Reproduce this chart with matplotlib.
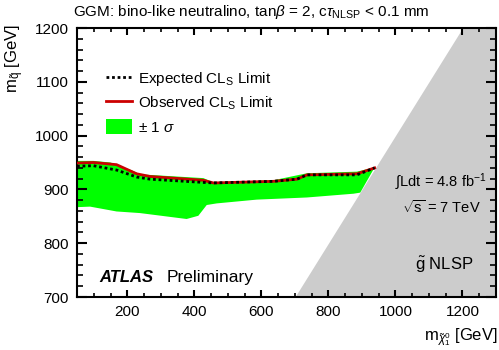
import matplotlib
matplotlib.use("Agg")
import matplotlib.pyplot as plt
import numpy as np
from matplotlib.ticker import MultipleLocator
from matplotlib.lines import Line2D
from matplotlib.patches import Patch

plt.rcParams['font.family'] = ['Liberation Sans', 'DejaVu Sans']
plt.rcParams['mathtext.fontset'] = 'custom'
plt.rcParams['mathtext.rm'] = 'Liberation Sans'
plt.rcParams['mathtext.it'] = 'Liberation Sans:italic'

# Observed limit
obs_x = [50, 99, 168, 228, 268, 427, 457, 636, 706, 736, 885, 938]
obs_y = [949, 950, 946, 929, 924, 917, 912, 915, 919, 927, 929, 940]
# Expected limit
exp_x = [50, 99, 168, 228, 268, 427, 457, 636, 706, 736, 885, 938]
exp_y = [943, 944, 936, 923, 919, 913, 912, 915, 919, 927, 927, 940]
# +-1 sigma band
band_up_x = [50, 99, 150, 215, 238, 427, 457, 636, 736, 885, 938]
band_up_y = [953, 953, 950, 935, 928, 921, 913, 917, 930, 933, 941]
band_lo_x = [50, 89, 168, 238, 377, 412, 437, 467, 586, 736, 875, 895, 938]
band_lo_y = [867, 868, 859, 856, 845, 851, 871, 874, 881, 885, 892, 894, 941]

fig = plt.figure(figsize=(4.99, 3.5), dpi=100)
ax = fig.add_axes([0.1543, 0.1514, 0.994 - 0.1543, 0.92 - 0.1514])

# forbidden region: neutralino heavier than squark
dx = np.array([700, 1300])
ax.fill_between(dx, 700, dx, color='#cccccc', lw=0, zorder=1)

# band polygon
bx = np.concatenate([band_up_x, band_lo_x[::-1]])
by = np.concatenate([band_up_y, band_lo_y[::-1]])
ax.fill(bx, by, color='#00ff00', lw=0, zorder=2)
ax.plot(obs_x, obs_y, color='#cc0000', lw=2, zorder=3)
ax.plot(exp_x, exp_y, color='black', lw=2, ls=(0, (1, 1)), zorder=4)

ax.set_xlim(50, 1300)
ax.set_ylim(700, 1200)
ax.xaxis.set_major_locator(MultipleLocator(200))
ax.xaxis.set_minor_locator(MultipleLocator(50))
ax.yaxis.set_major_locator(MultipleLocator(100))
ax.yaxis.set_minor_locator(MultipleLocator(20))
ax.tick_params(which='both', direction='in', top=True, right=True, labelsize=11,
               color='black', labelcolor='black')
ax.tick_params(axis='x', which='major', length=5, width=1.5, pad=6)
ax.tick_params(axis='x', which='minor', length=2.8, width=1.2)
ax.tick_params(axis='y', which='major', length=7.5, width=1.5, pad=6)
ax.tick_params(axis='y', which='minor', length=4, width=1.2)
ax.set_axisbelow(False)
for s in ax.spines.values():
    s.set_linewidth(1.5)

handles = [Line2D([], [], color='black', lw=2, ls=(0, (1, 1))),
           Line2D([], [], color='#cc0000', lw=2),
           Patch(facecolor='#00ff00', edgecolor='none')]
labels = [r'Expected CL$_\mathregular{S}$ Limit', r'Observed CL$_\mathregular{S}$ Limit',
          r'$\pm$ 1 $\sigma$']
ax.legend(handles, labels, loc='upper left', bbox_to_anchor=(0.055, 0.865), frameon=False,
          fontsize=11, handlelength=1.7, handleheight=1.2, labelspacing=0.42, handletextpad=0.4,
          borderaxespad=0)

fig.text(0.146, 0.965, r'GGM: bino-like neutralino, tan$\beta$ = 2, c$\tau_\mathregular{NLSP}$ < 0.1 mm',
         fontsize=11, ha='left', va='center')
fig.text(0.006, 0.93, r'm$_{\tilde{\mathregular{q}}}$ [GeV]', rotation=90, fontsize=12, ha='left', va='top')
fig.text(0.997, 0.005, r'm$_{\tilde{\chi}^0_1}$ [GeV]', fontsize=12, ha='right', va='bottom')

ax.text(1134, 914, r'$\int$Ldt = 4.8 fb$^{-1}$', fontsize=10.5, ha='center', va='center')
ax.text(1137, 866, r'$\sqrt{\mathregular{s}}$ = 7 TeV', fontsize=10.5, ha='center', va='center')
ax.text(1145, 760, r'$\tilde{\mathregular{g}}$ NLSP', fontsize=12, ha='center', va='center')
ax.text(117, 737, 'ATLAS', fontsize=12, fontweight='bold', fontstyle='italic', ha='left', va='center')
ax.text(316, 737, 'Preliminary', fontsize=12.5, ha='left', va='center')

fig.savefig('out.png', dpi=100)
